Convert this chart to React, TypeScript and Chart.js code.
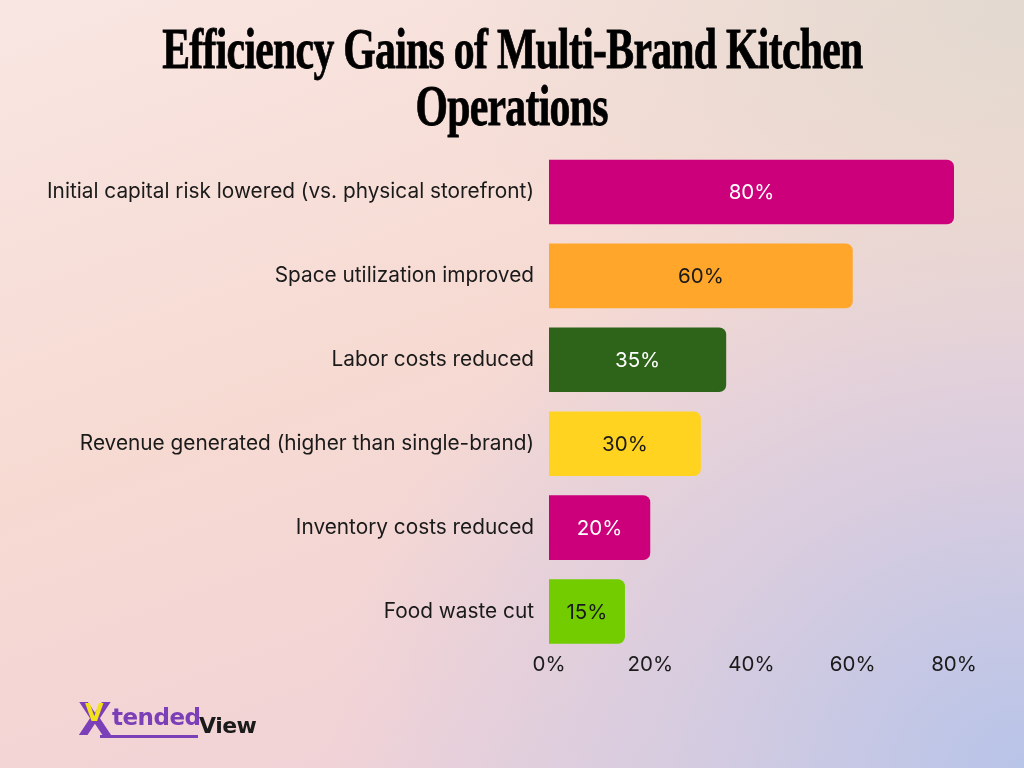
import React, { useEffect, useRef } from "react";
import { Chart, registerables } from "chart.js";

Chart.register(...registerables);

const titleLines = ["Efficiency Gains of Multi-Brand Kitchen", "Operations"];
const categories = [
  "Initial capital risk lowered (vs. physical storefront)",
  "Space utilization improved",
  "Labor costs reduced",
  "Revenue generated (higher than single-brand)",
  "Inventory costs reduced",
  "Food waste cut",
];
const values = [80, 60, 35, 30, 20, 15];
const barColors = ["#CC007A", "#FFA62B", "#2E6419", "#FFD320", "#CC007A", "#72CC00"];
const valueLabelColors = ["#FFFFFF", "#1A1A1A", "#FFFFFF", "#1A1A1A", "#FFFFFF", "#1A1A1A"];
const xMin = 0;
const xMax = 80;
const xStep = 20;

const FONT = "Inter, 'Noto Sans', sans-serif";

const valueLabelPlugin = {
  id: "valueLabels",
  afterDatasetsDraw(chart: any) {
    const ctx = chart.ctx;
    const meta = chart.getDatasetMeta(0);
    ctx.save();
    ctx.font = `400 20.5px ${FONT}`;
    ctx.textAlign = "center";
    ctx.textBaseline = "middle";
    meta.data.forEach((bar: any, i: number) => {
      const { x, y, base } = bar.getProps(["x", "y", "base"], true);
      ctx.fillStyle = valueLabelColors[i];
      ctx.fillText(`${values[i]}%`, (x + base) / 2, y + 1);
    });
    ctx.restore();
  },
};

export default function App() {
  const canvasRef = useRef<HTMLCanvasElement | null>(null);

  useEffect(() => {
    if (!canvasRef.current) return;
    const chart = new Chart(canvasRef.current, {
      type: "bar",
      data: {
        labels: categories,
        datasets: [
          {
            data: values,
            backgroundColor: barColors,
            borderRadius: 7,
            borderSkipped: "start",
            barPercentage: 0.77,
            categoryPercentage: 1,
          },
        ],
      },
      options: {
        indexAxis: "y",
        responsive: false,
        maintainAspectRatio: false,
        animation: false,
        layout: { padding: { top: 150, right: 70, bottom: 92, left: 0 } },
        plugins: {
          legend: { display: false },
          title: { display: false },
          tooltip: { enabled: false },
        },
        scales: {
          x: {
            min: xMin,
            max: xMax,
            grid: { display: false, drawTicks: false },
            border: { display: false },
            ticks: {
              stepSize: xStep,
              padding: 1,
              color: "#1A1A1A",
              font: { family: FONT, size: 20.5, lineHeight: 1 },
              callback: (v: any) => `${v}%`,
            },
          },
          y: {
            grid: { display: false, drawTicks: false },
            border: { display: false },
            afterFit: (scale: any) => {
              scale.width = 549;
            },
            ticks: {
              padding: 15,
              color: "#1A1A1A",
              font: { family: FONT, size: 20.8 },
            },
          },
        },
      },
      plugins: [valueLabelPlugin],
    });
    return () => chart.destroy();
  }, []);

  return (
    <div
      style={{
        position: "absolute",
        left: 0,
        top: 0,
        width: 1024,
        height: 768,
        overflow: "hidden",
        background:
          "radial-gradient(ellipse 600px 400px at 100% 0%, rgba(222,216,206,0.85) 0%, rgba(222,216,206,0) 100%), radial-gradient(ellipse 700px 600px at 100% 100%, rgba(184,196,232,1) 0%, rgba(200,200,228,0.6) 50%, rgba(200,200,228,0) 100%), linear-gradient(160deg, #F9E6E2 0%, #F6DAD2 45%, #F2D3D6 75%, #E6CFDC 100%)",
      }}
    >
      <div
        style={{
          position: "absolute",
          left: 0,
          top: 20,
          width: 1024,
          textAlign: "center",
          fontFamily: "'Liberation Serif', serif",
          fontWeight: 700,
          fontSize: 58,
          lineHeight: "57px",
          color: "#000",
          letterSpacing: -1,
          WebkitTextStroke: "0.8px #000",
        }}
      >
        {titleLines.map((t, i) => (
          <div key={i} style={{ whiteSpace: "nowrap" }}>
            <span style={{ display: "inline-block", transform: "scaleX(0.72)", transformOrigin: "center" }}>{t}</span>
          </div>
        ))}
      </div>
      <canvas ref={canvasRef} width={1024} height={768} style={{ position: "absolute", left: 0, top: 0 }} />
      <div
        style={{
          position: "absolute",
          left: 78,
          top: 698,
          height: 48,
          width: 200,
          fontFamily: "'DejaVu Sans', sans-serif",
          fontWeight: 700,
        }}
      >
        <span style={{ position: "absolute", left: 0, top: 0, fontSize: 44, color: "#7B3FB8", lineHeight: "44px" }}>X</span>
        <span style={{ position: "absolute", left: 7, top: 3, fontSize: 24, color: "#F2E21A", lineHeight: "24px" }}>V</span>
        <span style={{ position: "absolute", left: 34, top: 6, fontSize: 23, color: "#7B3FB8", lineHeight: "26px", letterSpacing: -0.5 }}>tended</span>
        <span style={{ position: "absolute", left: 22, top: 37, width: 98, height: 3, background: "#7B3FB8" }} />
        <span style={{ position: "absolute", left: 121, top: 15, fontSize: 22, color: "#1A1A1A", lineHeight: "26px", letterSpacing: -0.5 }}>View</span>
      </div>
    </div>
  );
}
